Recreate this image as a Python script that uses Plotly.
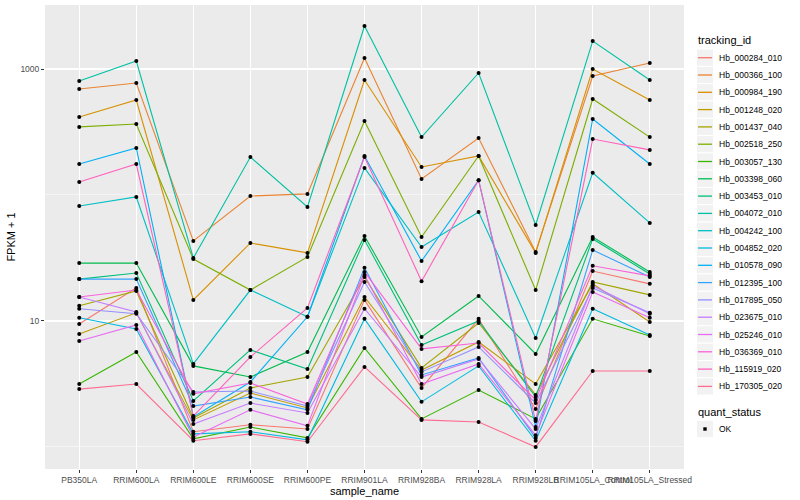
import plotly.graph_objects as go

samples = ["PB350LA", "RRIM600LA", "RRIM600LE", "RRIM600SE", "RRIM600PE", "RRIM901LA",
           "RRIM928BA", "RRIM928LA", "RRIM928LB", "RRIM105LA_Control", "RRIM105LA_Stressed"]

Hb_000284_010 = [9.47, 18.3, 1.32, 1.50, 1.39, 14.7, 2.94, 10.4, 2.00, 24.9, 19.7]
Hb_000366_100 = [694, 774, 43.2, 98.2, 102, 1222, 134, 283, 35.3, 880, 1116]
Hb_000984_190 = [416, 567, 14.7, 41.6, 34.7, 818, 167, 204, 34.7, 1000, 567]
Hb_001248_020 = [7.89, 11.6, 1.64, 2.68, 2.04, 15.5, 4.08, 6.81, 3.16, 19.7, 9.82]
Hb_001437_040 = [13.2, 17.3, 1.70, 2.94, 3.59, 22.3, 4.24, 9.64, 2.59, 20.4, 16.1]
Hb_002518_250 = [347, 366, 31.0, 17.6, 32.2, 387, 46.4, 204, 17.6, 578, 288]
Hb_003057_130 = [3.16, 5.67, 1.16, 1.44, 1.18, 6.11, 1.67, 2.83, 1.67, 10.4, 7.60]
Hb_003398_060 = [28.8, 28.8, 4.40, 3.59, 5.67, 47.3, 7.46, 15.8, 5.47, 46.4, 24.5]
Hb_003453_010 = [21.5, 24.0, 2.32, 5.89, 4.16, 44.0, 6.45, 10.0, 2.49, 44.8, 23.6]
Hb_004072_010 = [803, 1157, 31.6, 200, 80.3, 2195, 288, 930, 57.8, 1668, 818]
Hb_004242_100 = [81.8, 96.4, 4.56, 17.6, 10.8, 164, 38.6, 73.3, 7.33, 150, 60.0]
Hb_004852_020 = [10.6, 8.65, 1.27, 1.32, 1.14, 10.4, 2.28, 4.40, 1.12, 12.5, 7.74]
Hb_010578_090 = [176, 236, 1.73, 3.28, 10.8, 204, 29.9, 131, 1.44, 401, 176]
Hb_012395_100 = [21.5, 21.5, 2.11, 2.49, 1.97, 26.4, 3.73, 5.09, 1.18, 36.6, 22.3]
Hb_017895_050 = [12.5, 11.4, 2.73, 2.78, 2.11, 20.4, 3.94, 6.22, 2.23, 18.3, 11.6]
Hb_023675_010 = [15.5, 11.8, 1.52, 2.23, 1.86, 12.5, 3.59, 4.99, 1.39, 19.0, 11.4]
Hb_025246_010 = [6.93, 9.29, 1.20, 1.97, 1.47, 23.2, 3.16, 4.56, 1.24, 17.0, 10.6]
Hb_036369_010 = [15.5, 17.6, 2.64, 3.22, 2.19, 24.5, 6.00, 6.68, 2.36, 27.4, 22.8]
Hb_115919_020 = [127, 176, 1.76, 5.18, 12.7, 200, 20.7, 131, 1.61, 278, 228]
Hb_170305_020 = [2.88, 3.16, 1.12, 1.27, 1.10, 4.32, 1.64, 1.58, 1.00, 4.01, 4.01]

tracking_ids = ["Hb_000284_010", "Hb_000366_100", "Hb_000984_190", "Hb_001248_020", "Hb_001437_040",
                "Hb_002518_250", "Hb_003057_130", "Hb_003398_060", "Hb_003453_010", "Hb_004072_010",
                "Hb_004242_100", "Hb_004852_020", "Hb_010578_090", "Hb_012395_100", "Hb_017895_050",
                "Hb_023675_010", "Hb_025246_010", "Hb_036369_010", "Hb_115919_020", "Hb_170305_020"]
series_values = [Hb_000284_010, Hb_000366_100, Hb_000984_190, Hb_001248_020, Hb_001437_040,
                 Hb_002518_250, Hb_003057_130, Hb_003398_060, Hb_003453_010, Hb_004072_010,
                 Hb_004242_100, Hb_004852_020, Hb_010578_090, Hb_012395_100, Hb_017895_050,
                 Hb_023675_010, Hb_025246_010, Hb_036369_010, Hb_115919_020, Hb_170305_020]
quant_status = ["OK"]

palette = ["#F8766D", "#EA8331", "#D89000", "#C09B00", "#A3A500", "#7CAE00", "#39B600", "#00BB4E",
           "#00BF7D", "#00C1A3", "#00BFC4", "#00BAE0", "#00B0F6", "#35A2FF", "#9590FF", "#C77CFF",
           "#E76BF3", "#FA62DB", "#FF62BC", "#FF6C91"]

W, H = 800, 500
PL, PR, PT, PB = 45, 684, 5, 469  # panel edges in pixels


def px(xp):
    return (xp - PL) / (PR - PL)


def py(yp):
    return (PB - yp) / (PB - PT)


fig = go.Figure()
for name, vals, col in zip(tracking_ids, series_values, palette):
    fig.add_trace(go.Scatter(x=samples, y=vals, mode="lines", name=name,
                             line=dict(color=col, width=1.1), showlegend=False))

all_x = [s for _ in series_values for s in samples]
all_y = [v for vals in series_values for v in vals]
fig.add_trace(go.Scatter(x=all_x, y=all_y, mode="markers", name=quant_status[0],
                         marker=dict(color="black", size=4, symbol="circle"), showlegend=False))

font = "Liberation Sans, Arial, sans-serif"
shapes = []
annotations = []

# legend: tracking_id
annotations.append(dict(text="tracking_id", xref="paper", yref="paper", x=px(696), y=py(40.5),
                        xanchor="left", yanchor="middle", showarrow=False,
                        font=dict(size=11, color="black", family=font)))
for i, (name, col) in enumerate(zip(tracking_ids, palette)):
    cy = 57.7 + i * 17.3
    shapes.append(dict(type="rect", xref="paper", yref="paper",
                       x0=px(696.5), x1=px(713.5), y0=py(cy - 8.65), y1=py(cy + 8.65),
                       fillcolor="#F2F2F2", line=dict(color="white", width=1), layer="above"))
    shapes.append(dict(type="line", xref="paper", yref="paper",
                       x0=px(698), x1=px(712), y0=py(cy), y1=py(cy),
                       line=dict(color=col, width=1.3), layer="above"))
    annotations.append(dict(text=name, xref="paper", yref="paper", x=px(716.5), y=py(cy),
                            xanchor="left", yanchor="middle", showarrow=False,
                            font=dict(size=8.5, color="black", family=font)))

# legend: quant_status
annotations.append(dict(text="quant_status", xref="paper", yref="paper", x=px(696), y=py(412),
                        xanchor="left", yanchor="middle", showarrow=False,
                        font=dict(size=11, color="black", family=font)))
cy = 429
shapes.append(dict(type="rect", xref="paper", yref="paper",
                   x0=px(696.5), x1=px(713.5), y0=py(cy - 8.65), y1=py(cy + 8.65),
                   fillcolor="#F2F2F2", line=dict(color="white", width=1), layer="above"))
shapes.append(dict(type="rect", xref="paper", yref="paper",
                   x0=px(703.3), x1=px(706.7), y0=py(cy + 1.7), y1=py(cy - 1.7),
                   fillcolor="black", line=dict(width=0), layer="above"))
annotations.append(dict(text=quant_status[0], xref="paper", yref="paper", x=px(716.5), y=py(cy),
                        xanchor="left", yanchor="middle", showarrow=False,
                        font=dict(size=8.5, color="black", family=font)))

fig.update_layout(
    width=W, height=H,
    paper_bgcolor="white", plot_bgcolor="#EBEBEB",
    margin=dict(l=PL, r=W - PR, t=PT, b=H - PB, autoexpand=False),
    font=dict(family=font, size=9, color="black"),
    showlegend=False,
    shapes=shapes, annotations=annotations,
    xaxis=dict(type="category", categoryorder="array", categoryarray=samples,
               range=[-0.6, 10.6], showgrid=True, gridcolor="white", gridwidth=1.1,
               ticks="outside", ticklen=3, tickcolor="#333333", tickangle=0,
               tickfont=dict(size=8.5, color="#4D4D4D"), zeroline=False, automargin=False,
               title=dict(text="sample_name", font=dict(size=11), standoff=1)),
    yaxis=dict(type="log", range=[-0.175, 3.508], tickvals=[10, 1000], ticktext=["10", "1000"],
               showgrid=True, gridcolor="white", gridwidth=1.1,
               minor=dict(tickvals=[1, 100], showgrid=True, gridcolor="white", gridwidth=0.5, ticks=""),
               ticks="outside", ticklen=3, tickcolor="#333333",
               tickfont=dict(size=8.5, color="#4D4D4D"), zeroline=False, automargin=False,
               title=dict(text="FPKM + 1", font=dict(size=11), standoff=2)),
)

fig.write_html("out.html", config={"displayModeBar": False, "staticPlot": True},
               post_script="document.body.style.margin='0';document.body.style.overflow='hidden';")
